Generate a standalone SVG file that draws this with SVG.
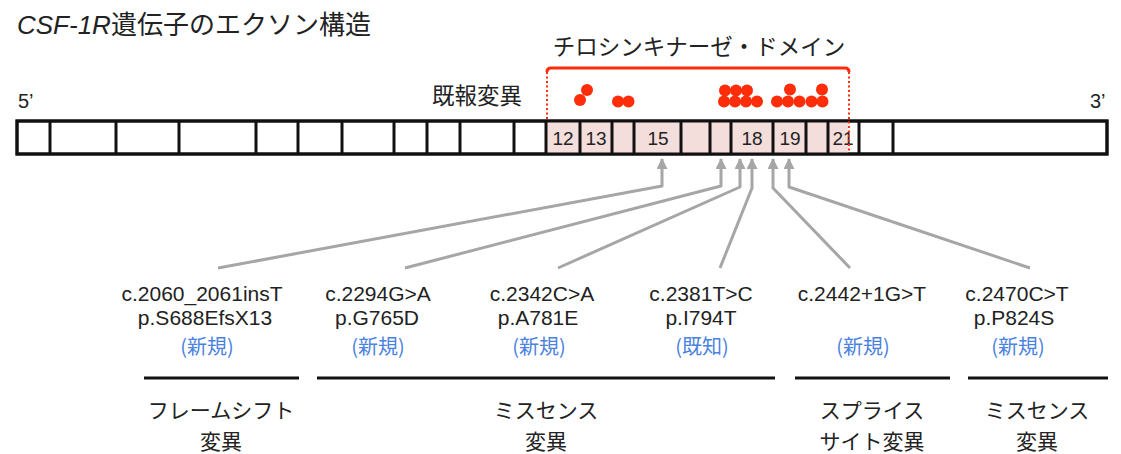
<svg xmlns="http://www.w3.org/2000/svg" width="1121" height="454" viewBox="0 0 1121 454">
<style>
.jp{font-family:"Noto Sans CJK JP","Liberation Sans",sans-serif;fill:#222}
.lat{font-family:"Liberation Sans","Noto Sans CJK JP",sans-serif;fill:#222}
.ex{fill:#fff;stroke:#111;stroke-width:3}
.num{font-family:"Liberation Sans",sans-serif;font-size:19px;fill:#222;text-anchor:middle}
.dot{fill:#ff2d0a}
.arr{fill:none;stroke:#a6a6a6;stroke-width:3;stroke-linejoin:round}
.lbl{font-family:"Liberation Sans","Noto Sans CJK JP",sans-serif;font-size:21px;fill:#222;text-anchor:middle}
.new{font-family:"Noto Sans CJK JP","Liberation Sans",sans-serif;font-size:20px;fill:#4a82e0;text-anchor:middle}
.cat{font-family:"Noto Sans CJK JP","Liberation Sans",sans-serif;font-size:21px;fill:#222;text-anchor:middle}
.bar{stroke:#111;stroke-width:3}
</style>
<defs>
<marker id="ah" markerUnits="userSpaceOnUse" markerWidth="11" markerHeight="11" refX="10" refY="5.5" orient="auto">
<path d="M0,0 L11,5.5 L0,11 z" fill="#a6a6a6"/>
</marker>
</defs>
<rect width="1121" height="454" fill="#fff"/>

<text class="lat" x="17" y="34" font-size="26"><tspan font-style="italic">CSF-1R</tspan><tspan font-family="Noto Sans CJK JP, sans-serif">遺伝子のエクソン構造</tspan></text>

<text class="jp" x="699" y="55" font-size="22.5" text-anchor="middle">チロシンキナーゼ・ドメイン</text>
<text class="jp" x="477" y="104" font-size="22.5" text-anchor="middle">既報変異</text>
<text class="lat" x="18" y="108" font-size="20">5’</text>
<text class="lat" x="1090" y="108" font-size="20">3’</text>

<g id="gene">
<rect class="ex" x="17" y="121" width="1090" height="33"/>
<rect x="546" y="121" width="302" height="33" fill="#f4dedb"/>
<g id="exons" class="bar">
<line x1="50" y1="121" x2="50" y2="154"/>
<line x1="116" y1="121" x2="116" y2="154"/>
<line x1="179" y1="121" x2="179" y2="154"/>
<line x1="256" y1="121" x2="256" y2="154"/>
<line x1="298" y1="121" x2="298" y2="154"/>
<line x1="342" y1="121" x2="342" y2="154"/>
<line x1="394" y1="121" x2="394" y2="154"/>
<line x1="427" y1="121" x2="427" y2="154"/>
<line x1="460" y1="121" x2="460" y2="154"/>
<line x1="514" y1="121" x2="514" y2="154"/>
<line x1="546" y1="121" x2="546" y2="154"/>
<line x1="580" y1="121" x2="580" y2="154"/>
<line x1="612" y1="121" x2="612" y2="154"/>
<line x1="634" y1="121" x2="634" y2="154"/>
<line x1="681" y1="121" x2="681" y2="154"/>
<line x1="710" y1="121" x2="710" y2="154"/>
<line x1="731" y1="121" x2="731" y2="154"/>
<line x1="773" y1="121" x2="773" y2="154"/>
<line x1="806" y1="121" x2="806" y2="154"/>
<line x1="828" y1="121" x2="828" y2="154"/>
<line x1="859" y1="121" x2="859" y2="154"/>
<line x1="893" y1="121" x2="893" y2="154"/>
</g>
<rect x="17" y="121" width="1090" height="33" fill="none" stroke="#111" stroke-width="3"/>
<text class="num" x="563" y="144.5">12</text>
<text class="num" x="596" y="144.5">13</text>
<text class="num" x="658" y="144.5">15</text>
<text class="num" x="752" y="144.5">18</text>
<text class="num" x="790" y="144.5">19</text>
<text class="num" x="843" y="144.5">21</text>
</g>

<g id="tk-domain" fill="none" stroke="#ff2d0a">
<path d="M547,72 Q547,68 551,68 L845,68 Q849,68 849,72" stroke-width="3"/>
<line x1="547" y1="72" x2="547" y2="120" stroke-width="2" stroke-dasharray="2 2.5"/>
<line x1="849" y1="72" x2="849" y2="152" stroke-width="2" stroke-dasharray="2 2.5"/>
</g>

<g id="known-mutations" class="dot">
<circle cx="580" cy="100" r="6"/><circle cx="587" cy="90" r="6"/>
<circle cx="618" cy="101.5" r="6"/><circle cx="628.5" cy="101.5" r="6"/>
<circle cx="725" cy="90.5" r="6"/><circle cx="736" cy="90.5" r="6"/><circle cx="747" cy="90.5" r="6"/>
<circle cx="724" cy="101.5" r="6"/><circle cx="735" cy="101.5" r="6"/><circle cx="746" cy="101.5" r="6"/><circle cx="757" cy="101.5" r="6"/>
<circle cx="790" cy="89.5" r="6"/>
<circle cx="777" cy="101.5" r="6"/><circle cx="788" cy="101.5" r="6"/><circle cx="799.5" cy="101.5" r="6"/>
<circle cx="822" cy="89.5" r="6"/>
<circle cx="811.5" cy="101.5" r="6"/><circle cx="822.5" cy="101.5" r="6"/>
</g>

<g id="connectors" class="arr">
<polyline points="218,268 662,186 662,159" marker-end="url(#ah)"/>
<polyline points="405,268 721,186 721,159" marker-end="url(#ah)"/>
<polyline points="558,268 740,187 740,159" marker-end="url(#ah)"/>
<polyline points="720,268 752,188 752,159" marker-end="url(#ah)"/>
<polyline points="850,268 773,188 773,159" marker-end="url(#ah)"/>
<polyline points="1030,268 789,187 789,159" marker-end="url(#ah)"/>
</g>

<g id="m1"><text class="lbl" x="202" y="301">c.2060_2061insT</text><text class="lbl" x="205" y="325">p.S688EfsX13</text><text class="new" x="207" y="354">(新規)</text></g>
<g id="m2"><text class="lbl" x="378" y="301">c.2294G&gt;A</text><text class="lbl" x="377" y="325">p.G765D</text><text class="new" x="378" y="354">(新規)</text></g>
<g id="m3"><text class="lbl" x="542" y="301">c.2342C&gt;A</text><text class="lbl" x="538" y="325">p.A781E</text><text class="new" x="539" y="354">(新規)</text></g>
<g id="m4"><text class="lbl" x="701" y="301">c.2381T&gt;C</text><text class="lbl" x="701" y="325">p.I794T</text><text class="new" x="702" y="354">(既知)</text></g>
<g id="m5"><text class="lbl" x="862" y="301">c.2442+1G&gt;T</text><text class="new" x="863" y="354">(新規)</text></g>
<g id="m6"><text class="lbl" x="1017" y="301">c.2470C&gt;T</text><text class="lbl" x="1014" y="325">p.P824S</text><text class="new" x="1018" y="354">(新規)</text></g>

<g id="categories">
<line class="bar" x1="144" y1="378" x2="299" y2="378"/>
<line class="bar" x1="317" y1="378" x2="775" y2="378"/>
<line class="bar" x1="795" y1="378" x2="950" y2="378"/>
<line class="bar" x1="968" y1="378" x2="1108" y2="378"/>
<text class="cat" x="221" y="418">フレームシフト</text><text class="cat" x="221" y="449">変異</text>
<text class="cat" x="546" y="418">ミスセンス</text><text class="cat" x="546" y="449">変異</text>
<text class="cat" x="872" y="418">スプライス</text><text class="cat" x="872" y="449">サイト変異</text>
<text class="cat" x="1037" y="418">ミスセンス</text><text class="cat" x="1037" y="449">変異</text>
</g>
</svg>
